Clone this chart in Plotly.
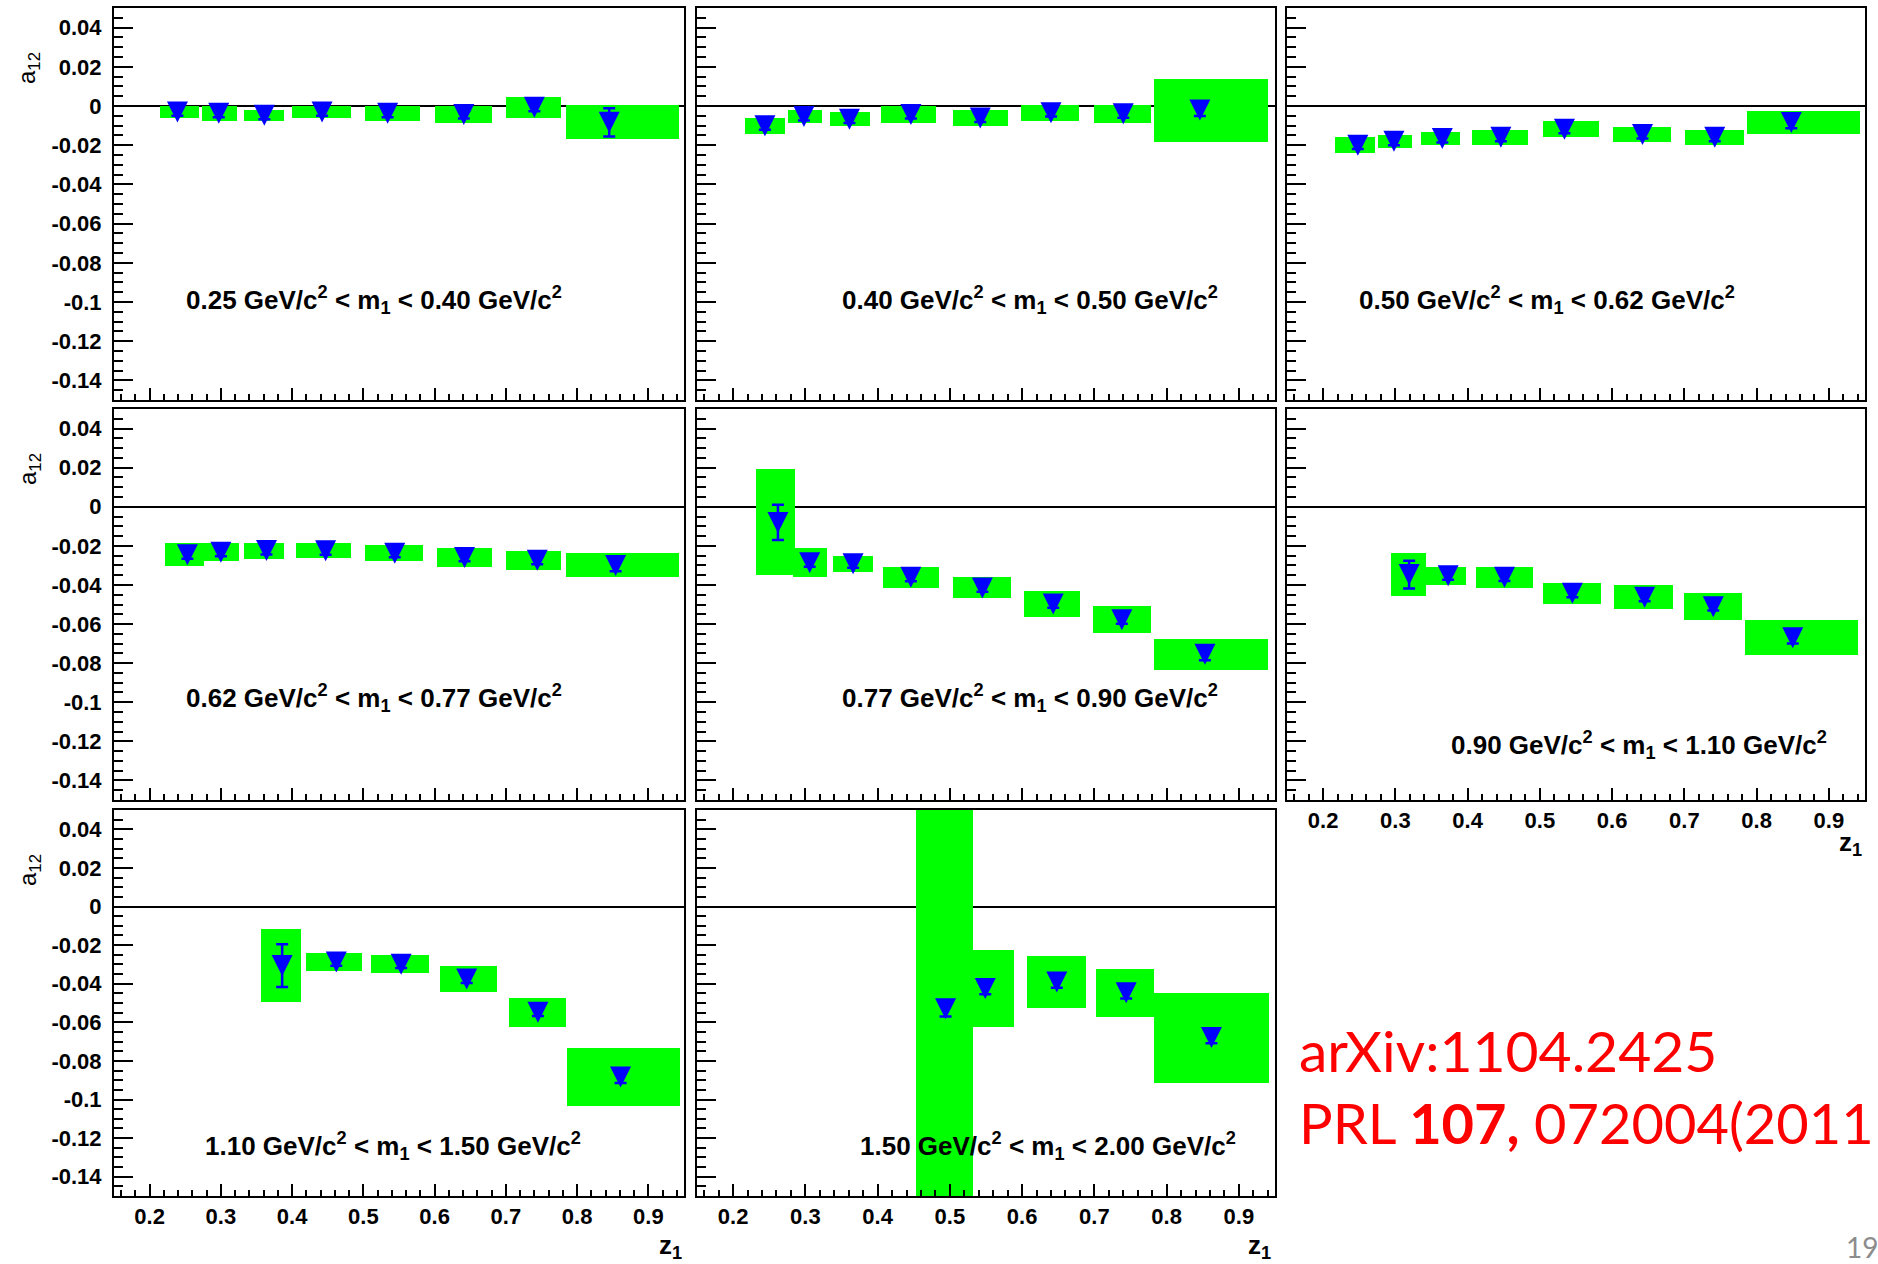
import plotly.graph_objects as go

# ---------------- data ----------------
mass_bins = [
    "0.25 GeV/c<sup>2</sup> &lt; m<sub>1</sub> &lt; 0.40 GeV/c<sup>2</sup>",
    "0.40 GeV/c<sup>2</sup> &lt; m<sub>1</sub> &lt; 0.50 GeV/c<sup>2</sup>",
    "0.50 GeV/c<sup>2</sup> &lt; m<sub>1</sub> &lt; 0.62 GeV/c<sup>2</sup>",
    "0.62 GeV/c<sup>2</sup> &lt; m<sub>1</sub> &lt; 0.77 GeV/c<sup>2</sup>",
    "0.77 GeV/c<sup>2</sup> &lt; m<sub>1</sub> &lt; 0.90 GeV/c<sup>2</sup>",
    "0.90 GeV/c<sup>2</sup> &lt; m<sub>1</sub> &lt; 1.10 GeV/c<sup>2</sup>",
    "1.10 GeV/c<sup>2</sup> &lt; m<sub>1</sub> &lt; 1.50 GeV/c<sup>2</sup>",
    "1.50 GeV/c<sup>2</sup> &lt; m<sub>1</sub> &lt; 2.00 GeV/c<sup>2</sup>",
]

# mean z1 of each point, per m1 bin
z_mean = [
    [0.239, 0.297, 0.361, 0.442, 0.534, 0.641, 0.740, 0.845],
    [0.244, 0.298, 0.361, 0.446, 0.542, 0.640, 0.740, 0.846],
    [0.248, 0.298, 0.365, 0.446, 0.534, 0.642, 0.742, 0.848],
    [0.253, 0.300, 0.364, 0.447, 0.544, 0.642, 0.744, 0.854],
    [0.262, 0.306, 0.366, 0.446, 0.545, 0.643, 0.738, 0.853],
    [0.319, 0.373, 0.451, 0.545, 0.645, 0.740, 0.850],
    [0.386, 0.462, 0.553, 0.645, 0.745, 0.861],
    [0.494, 0.549, 0.648, 0.744, 0.862],
]

# asymmetry a12
a12 = [
    [-0.0030, -0.0037, -0.0047, -0.0030, -0.0037, -0.0044, -0.0007, -0.0083],
    [-0.0101, -0.0054, -0.0067, -0.0044, -0.0061, -0.0034, -0.0040, -0.0021],
    [-0.0200, -0.0180, -0.0166, -0.0160, -0.0119, -0.0146, -0.0160, -0.0084],
    [-0.0246, -0.0233, -0.0224, -0.0225, -0.0238, -0.0259, -0.0274, -0.0300],
    [-0.0080, -0.0287, -0.0292, -0.0361, -0.0415, -0.0497, -0.0578, -0.0755],
    [-0.0347, -0.0353, -0.0360, -0.0443, -0.0463, -0.0511, -0.0670],
    [-0.0306, -0.0287, -0.0299, -0.0376, -0.0548, -0.0884],
    [-0.0530, -0.0425, -0.0391, -0.0447, -0.0679],
]

# statistical errors
stat_err = [
    [0.0020, 0.0020, 0.0020, 0.0020, 0.0020, 0.0020, 0.0020, 0.0072],
    [0.0020, 0.0020, 0.0020, 0.0020, 0.0020, 0.0020, 0.0020, 0.0030],
    [0.0020, 0.0020, 0.0020, 0.0020, 0.0020, 0.0020, 0.0020, 0.0030],
    [0.0020, 0.0020, 0.0020, 0.0020, 0.0020, 0.0020, 0.0020, 0.0030],
    [0.0090, 0.0020, 0.0020, 0.0020, 0.0020, 0.0020, 0.0020, 0.0030],
    [0.0071, 0.0020, 0.0020, 0.0020, 0.0020, 0.0020, 0.0030],
    [0.0111, 0.0020, 0.0020, 0.0020, 0.0020, 0.0030],
    [0.0040, 0.0030, 0.0030, 0.0030, 0.0030],
]

# systematic errors (half height of the green boxes)
sys_err = [
    [0.0030, 0.0037, 0.0027, 0.0030, 0.0037, 0.0044, 0.0054, 0.0086],
    [0.0040, 0.0034, 0.0034, 0.0044, 0.0040, 0.0040, 0.0047, 0.0161],
    [0.0040, 0.0033, 0.0033, 0.0040, 0.0040, 0.0040, 0.0040, 0.0059],
    [0.0059, 0.0047, 0.0041, 0.0039, 0.0042, 0.0047, 0.0048, 0.0061],
    [0.0271, 0.0074, 0.0041, 0.0054, 0.0054, 0.0068, 0.0068, 0.0081],
    [0.0109, 0.0047, 0.0054, 0.0055, 0.0062, 0.0068, 0.0090],
    [0.0191, 0.0047, 0.0047, 0.0069, 0.0075, 0.0150],
    [0.1100, 0.0199, 0.0136, 0.0123, 0.0233],
]

# z1 extent of the systematic boxes
box_lo = [
    [0.214, 0.273, 0.333, 0.400, 0.502, 0.601, 0.700, 0.784],
    [0.217, 0.276, 0.334, 0.405, 0.504, 0.599, 0.699, 0.783],
    [0.217, 0.276, 0.336, 0.406, 0.505, 0.601, 0.701, 0.786],
    [0.221, 0.276, 0.333, 0.405, 0.502, 0.603, 0.700, 0.784],
    [0.232, 0.283, 0.338, 0.408, 0.504, 0.603, 0.698, 0.783],
    [0.294, 0.342, 0.412, 0.504, 0.603, 0.699, 0.784],
    [0.357, 0.420, 0.511, 0.608, 0.705, 0.786],
    [0.453, 0.532, 0.607, 0.702, 0.783],
]
box_hi = [
    [0.269, 0.322, 0.389, 0.482, 0.580, 0.681, 0.778, 0.943],
    [0.272, 0.323, 0.389, 0.481, 0.580, 0.679, 0.778, 0.940],
    [0.272, 0.323, 0.390, 0.483, 0.582, 0.682, 0.782, 0.943],
    [0.276, 0.325, 0.389, 0.482, 0.583, 0.681, 0.778, 0.943],
    [0.286, 0.330, 0.393, 0.485, 0.584, 0.680, 0.779, 0.940],
    [0.342, 0.398, 0.490, 0.584, 0.684, 0.780, 0.940],
    [0.412, 0.498, 0.592, 0.687, 0.784, 0.945],
    [0.532, 0.589, 0.688, 0.783, 0.941],
]

x_tick_vals = [0.2, 0.3, 0.4, 0.5, 0.6, 0.7, 0.8, 0.9]
x_tick_text = ["0.2", "0.3", "0.4", "0.5", "0.6", "0.7", "0.8", "0.9"]
y_tick_vals = [0.04, 0.02, 0, -0.02, -0.04, -0.06, -0.08, -0.1, -0.12, -0.14]
y_tick_text = ["0.04", "0.02", "0", "-0.02", "-0.04", "-0.06", "-0.08", "-0.1", "-0.12", "-0.14"]

# ---------------- layout geometry ----------------
W, H = 1878, 1264
col_px = [(114, 684), (697, 1275), (1287, 1865)]
row_px = [(8, 400), (409, 800), (810, 1196)]
# label anchor (data coords) for each panel
label_pos = [(0.515, -0.099), (0.611, -0.099), (0.510, -0.099),
             (0.515, -0.098), (0.611, -0.098), (0.637, -0.122),
             (0.541, -0.124), (0.636, -0.124)]

GREEN = "#00FF00"
BLUE = "#0000FF"
FONT = "Liberation Sans"
tickfont = dict(family=FONT, size=22, color="black", weight="bold")

fig = go.Figure()
layout = dict(
    width=W, height=H, margin=dict(l=0, r=0, t=0, b=0),
    paper_bgcolor="white", plot_bgcolor="white",
    showlegend=False, barmode="overlay", bargap=0,
)
annotations = []

for i in range(8):
    r, c = divmod(i, 3)
    sfx = "" if i == 0 else str(i + 1)
    xa, ya = "x" + sfx, "y" + sfx

    centers = [(lo + hi) / 2 for lo, hi in zip(box_lo[i], box_hi[i])]
    widths = [hi - lo for lo, hi in zip(box_lo[i], box_hi[i])]
    bases = [a - s for a, s in zip(a12[i], sys_err[i])]
    heights = [2 * s for s in sys_err[i]]

    fig.add_trace(go.Bar(
        x=centers, y=heights, base=bases, width=widths,
        marker=dict(color=GREEN, line=dict(width=0)),
        xaxis=xa, yaxis=ya, hoverinfo="skip",
    ))
    fig.add_trace(go.Scatter(
        x=z_mean[i], y=a12[i], mode="markers",
        marker=dict(symbol="arrow-down", size=21, standoff=10.5, color=BLUE,
                    line=dict(width=0)),
        error_y=dict(type="data", array=stat_err[i], color=BLUE,
                     thickness=2.5, width=6),
        xaxis=xa, yaxis=ya,
    ))

    x0, x1 = col_px[c]
    y0, y1 = row_px[r]
    show_x_labels = i in (5, 6, 7)
    layout["xaxis" + sfx] = dict(
        domain=[x0 / W, x1 / W], anchor=ya, range=[0.15, 0.95],
        showline=True, mirror=True, linecolor="black", linewidth=2,
        showgrid=False, zeroline=False,
        ticks="inside", ticklen=12, tickwidth=2, tickcolor="black",
        tickmode="array", tickvals=x_tick_vals, ticktext=x_tick_text,
        showticklabels=show_x_labels, tickfont=tickfont,
        minor=dict(ticks="inside", ticklen=6, tickwidth=2, tickcolor="black",
                   tickmode="linear", tick0=0, dtick=0.02, showgrid=False),
    )
    layout["yaxis" + sfx] = dict(
        domain=[1 - y1 / H, 1 - y0 / H], anchor=xa, range=[-0.15, 0.05],
        showline=True, mirror=True, linecolor="black", linewidth=2,
        showgrid=False, zeroline=True, zerolinecolor="black", zerolinewidth=2,
        ticks="inside", ticklen=19, tickwidth=2, tickcolor="black",
        tickmode="array", tickvals=y_tick_vals, ticktext=y_tick_text,
        showticklabels=(c == 0), tickfont=tickfont, ticklabelstandoff=6,
        minor=dict(ticks="inside", ticklen=9, tickwidth=2, tickcolor="black",
                   tickmode="linear", tick0=0, dtick=0.005, showgrid=False),
    )

    lx, ly = label_pos[i]
    annotations.append(dict(
        x=lx, y=ly, xref=xa, yref=ya, text=mass_bins[i], showarrow=False,
        xanchor="center", yanchor="middle",
        font=dict(family=FONT, size=26, color="black", weight="bold"),
    ))

# y-axis titles (a12) at the top of each left axis
for (y0, y1) in row_px:
    annotations.append(dict(
        x=29 / W, y=1 - (y0 + 60) / H, xref="paper", yref="paper",
        text="a<sub>12</sub>", textangle=-90, showarrow=False,
        xanchor="center", yanchor="middle",
        font=dict(family=FONT, size=24, color="black"),
    ))

# x-axis titles (z1)
for (px, py) in [(1850, 843), (670, 1246), (1259, 1246)]:
    annotations.append(dict(
        x=px / W, y=1 - py / H, xref="paper", yref="paper",
        text="z<sub>1</sub>", showarrow=False,
        xanchor="center", yanchor="middle",
        font=dict(family=FONT, size=26, color="black", weight="bold"),
    ))

# reference text
annotations.append(dict(
    x=1297 / W, y=1 - 1050 / H, xref="paper", yref="paper",
    text="arXiv:1104.2425", showarrow=False, xanchor="left", yanchor="middle",
    font=dict(family="Lato", size=57, color="#FF0000"),
))
annotations.append(dict(
    x=1297 / W, y=1 - 1122 / H, xref="paper", yref="paper",
    text="PRL <b>107,</b> 072004(2011", showarrow=False, xanchor="left",
    yanchor="middle", font=dict(family="Lato", size=56, color="#FF0000"),
))
annotations.append(dict(
    x=1844 / W, y=1 - 1247 / H, xref="paper", yref="paper",
    text="19", showarrow=False, xanchor="left", yanchor="middle",
    font=dict(family="Lato", size=28, color="#8C8C8C"),
))

layout["annotations"] = annotations
fig.update_layout(**layout)
fig.write_html("out.html")
